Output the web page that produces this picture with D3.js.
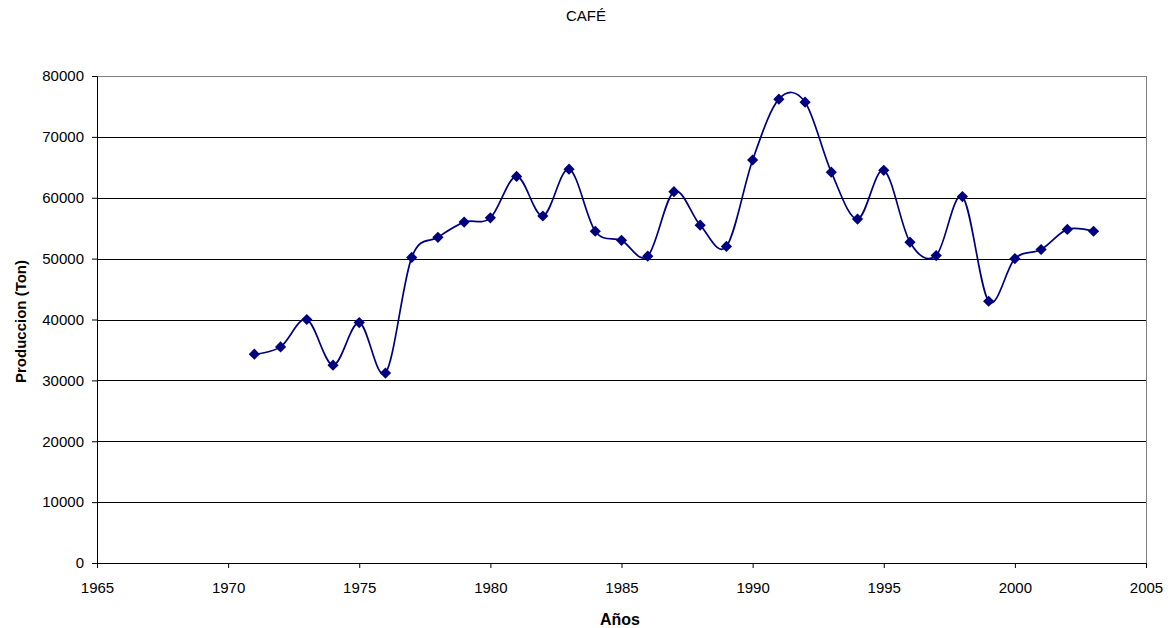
<!DOCTYPE html>
<html>
<head>
<meta charset="utf-8">
<script src="https://cdn.jsdelivr.net/npm/d3@7"></script>
<style>
  body { margin: 0; background: #fff; }
  text { font-family: "Liberation Sans", Arial, sans-serif; fill: #000; }
</style>
</head>
<body>
<script>
// data
var years = [1971, 1972, 1973, 1974, 1975, 1976, 1977, 1978, 1979, 1980,
             1981, 1982, 1983, 1984, 1985, 1986, 1987, 1988, 1989, 1990,
             1991, 1992, 1993, 1994, 1995, 1996, 1997, 1998, 1999, 2000,
             2001, 2002, 2003];
var produccion = [34300, 35500, 40000, 32500, 39500, 31200, 50200, 53500, 56000, 56700,
                  63500, 57000, 64700, 54500, 53000, 50400, 61000, 55500, 52000, 66200,
                  76200, 75700, 64200, 56500, 64500, 52700, 50500, 60200, 43000, 50000,
                  51500, 54800, 54500];
var xTicks = [1965, 1970, 1975, 1980, 1985, 1990, 1995, 2000, 2005];
var yTicks = [0, 10000, 20000, 30000, 40000, 50000, 60000, 70000, 80000];

// set the dimensions and margins of the graph
var margin = {top: 76, right: 25, bottom: 65, left: 97},
    width = 1171 - margin.left - margin.right,
    height = 628 - margin.top - margin.bottom;

var data = years.map(function(y, i) { return {year: y, value: produccion[i]}; });

var x = d3.scaleLinear().domain([1965, 2005]).range([0, width]);
var y = d3.scaleLinear().domain([0, 80000]).range([height, 0]);

var svg = d3.select("body").append("svg")
    .attr("width", 1171)
    .attr("height", 628);

var g = svg.append("g")
    .attr("transform", "translate(" + margin.left + "," + margin.top + ")");

// horizontal grid lines
g.selectAll(".grid")
  .data(yTicks.slice(1))
  .enter().append("line")
    .attr("x1", 0).attr("x2", width)
    .attr("y1", function(d) { return Math.round(y(d)) + 0.5; })
    .attr("y2", function(d) { return Math.round(y(d)) + 0.5; })
    .attr("stroke", function(d) { return d === 80000 ? "#808080" : "#000"; })
    .attr("stroke-width", 1);

// right border
g.append("line")
  .attr("x1", width + 0.5).attr("x2", width + 0.5)
  .attr("y1", 0).attr("y2", height)
  .attr("stroke", "#808080");

// Y axis
var yAxis = g.append("g")
  .call(d3.axisLeft(y).tickValues(yTicks).tickSize(5).tickPadding(8).tickFormat(d3.format("d")));
yAxis.selectAll("text").style("font-size", "15px");
yAxis.select(".domain").attr("stroke", "#000");

// X axis
var xAxis = g.append("g")
  .attr("transform", "translate(0," + height + ")")
  .call(d3.axisBottom(x).tickValues(xTicks).tickSize(5).tickPadding(14).tickFormat(d3.format("d")));
xAxis.selectAll("text").style("font-size", "15px");
xAxis.select(".domain").attr("stroke", "#000");

// smoothed line
var line = d3.line()
    .x(function(d) { return x(d.year); })
    .y(function(d) { return y(d.value); })
    .curve(d3.curveCatmullRom.alpha(0));

g.append("path")
  .datum(data)
  .attr("fill", "none")
  .attr("stroke", "#000080")
  .attr("stroke-width", 1.7)
  .attr("d", line);

// diamond markers
g.selectAll(".pt")
  .data(data)
  .enter().append("path")
    .attr("d", d3.symbol().type(d3.symbolDiamond2).size(80))
    .attr("transform", function(d) { return "translate(" + x(d.year) + "," + y(d.value) + ")"; })
    .attr("fill", "#000080");

// title
svg.append("text")
  .attr("x", 586).attr("y", 21)
  .attr("text-anchor", "middle")
  .style("font-size", "15px")
  .text("CAFÉ");

// axis titles
svg.append("text")
  .attr("x", 620).attr("y", 625)
  .attr("text-anchor", "middle")
  .style("font-size", "16px")
  .style("font-weight", "bold")
  .text("Años");

svg.append("text")
  .attr("transform", "translate(26," + (margin.top + height / 2 + 2) + ") rotate(-90)")
  .attr("text-anchor", "middle")
  .style("font-size", "15px")
  .style("font-weight", "bold")
  .text("Produccion (Ton)");
</script>
</body>
</html>
